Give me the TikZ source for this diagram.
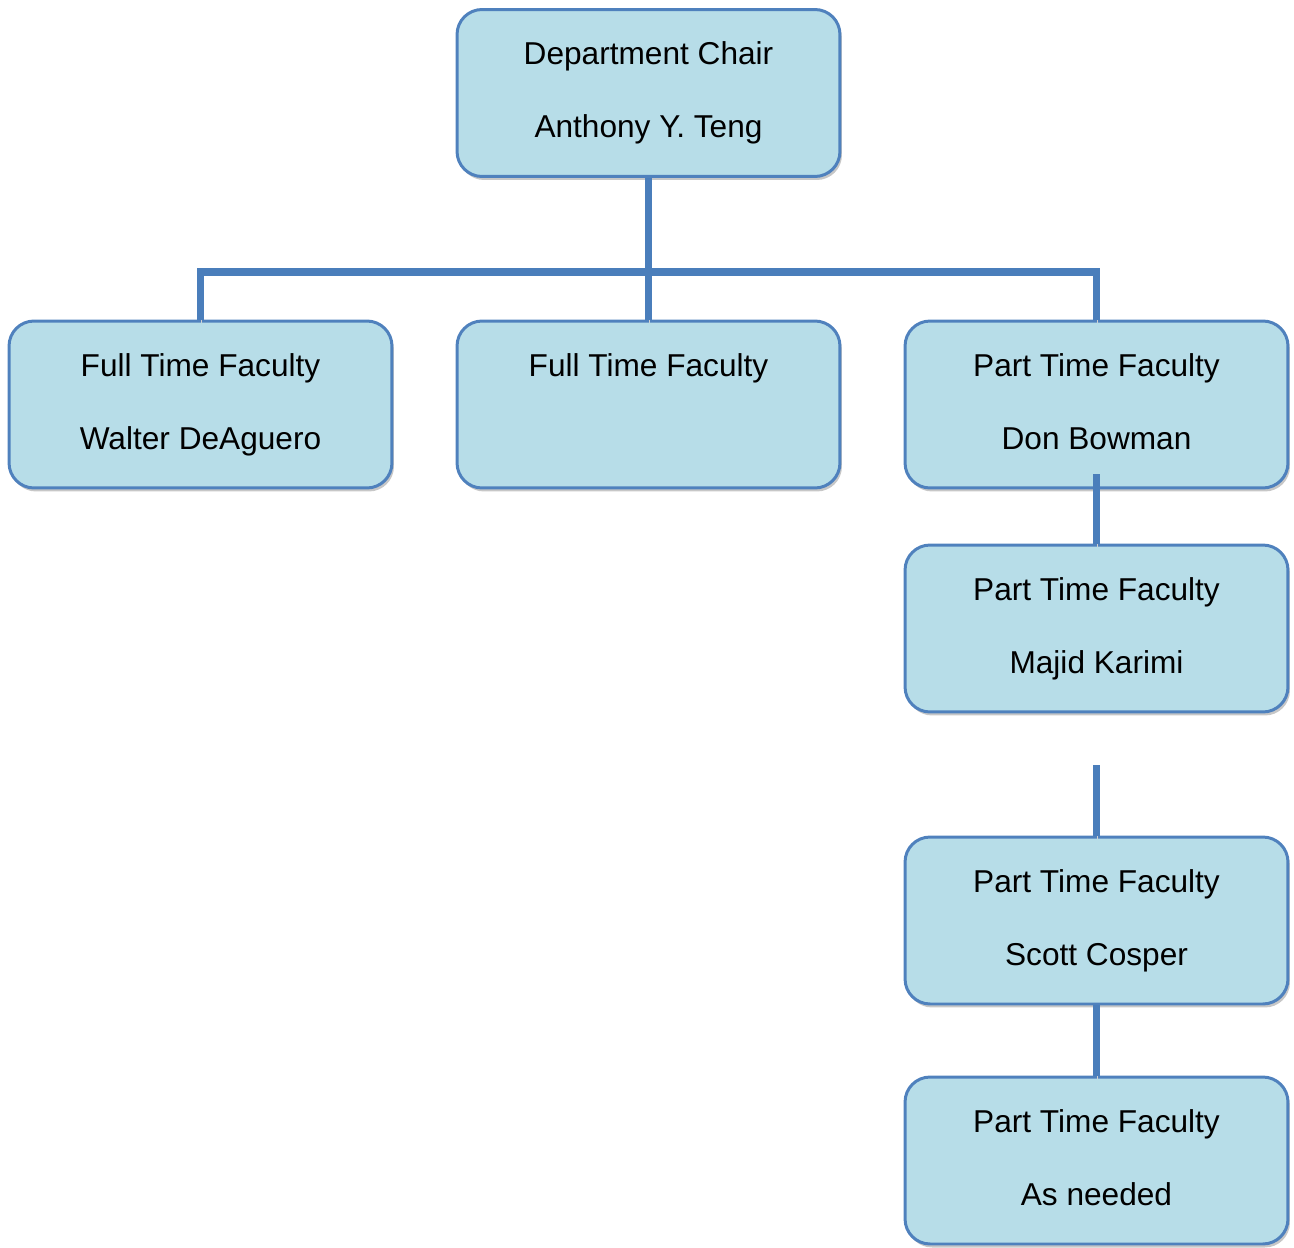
\documentclass[tikz,border=0pt]{standalone}
\usepackage{fontspec}
\setmainfont{Liberation Sans}
\usepackage{tikz}
\usetikzlibrary{shadows}
\definecolor{boxfill}{HTML}{B7DDE8}
\definecolor{boxline}{HTML}{4F81BD}
\definecolor{linkblue}{HTML}{4A7EBB}
\tikzset{
  orgbox/.style={draw=boxline, line width=1.7pt, fill=boxfill, rounded corners=0.5cm,
    minimum width=7.66cm, minimum height=3.34cm, align=center,
    font=\fontsize{18}{41.5}\selectfont,
    drop shadow={shadow xshift=0.04cm, shadow yshift=-0.07cm, fill=black!22, opacity=1}},
  link/.style={draw=linkblue, line width=4.5pt,
    preaction={draw=black!18, transform canvas={shift={(0.02cm,-0.06cm)}}}}
}

\begin{document}
\begin{tikzpicture}[x=0.02cm,y=-0.02cm]
\useasboundingbox (0,0) rectangle (1294,1247);
\node[orgbox] (chair) at (648.5,93) {Department Chair\\Anthony Y. Teng};
\node[orgbox] (fullA) at (200.5,404.5) {Full Time Faculty\\Walter DeAguero};
\node[orgbox] (fullB) at (648.5,404.5) {Full Time Faculty\\\phantom{Fg}};
\node[orgbox] (partA) at (1096.5,404.5) {Part Time Faculty\\Don Bowman\vphantom{g}};
\node[orgbox] (partB) at (1096.5,628.5) {Part Time Faculty\\Majid Karimi};
\node[orgbox] (partC) at (1096.5,920.5) {Part Time Faculty\\Scott Cosper};
\node[orgbox] (partD) at (1096.5,1160.5) {Part Time Faculty\\As needed\vphantom{g}};
\coordinate (bus) at (648.5,272);
\coordinate (gap) at (1096.5,765);
\draw[link] (fullA.north) -- (fullA.north |- bus) -- (partA.north |- bus) -- (partA.north);
\draw[link] (chair.south) -- (fullB.north);
\draw[link] ([yshift=0.3cm]partA.south) -- (partB.north);
\draw[link] (gap) -- (partC.north);
\draw[link] (partC.south) -- (partD.north);
\end{tikzpicture}
\end{document}
